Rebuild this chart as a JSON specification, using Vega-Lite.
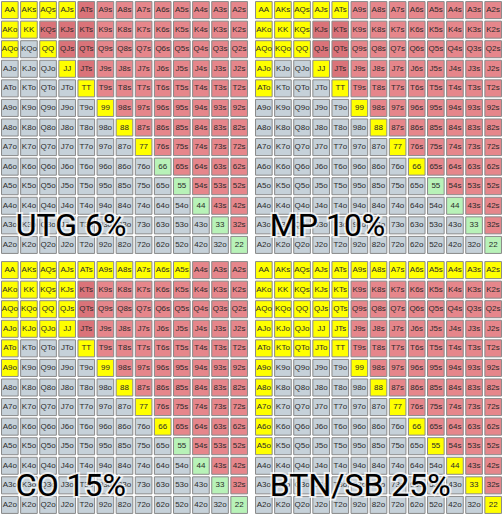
{
"$schema":"https://vega.github.io/schema/vega-lite/v6.json",
"padding":0,
"background":"white",
"datasets":{
"titles":[{"p":"utg","t":"UTG 6%"},{"p":"mp","t":"MP 10%"},{"p":"co","t":"CO 15%"},{"p":"btn","t":"BTN/SB 25%"}],
"cells":[
{"r":0,"c":0,"h":"AA","utg":"Y","mp":"Y","co":"Y","btn":"Y"},
{"r":0,"c":1,"h":"AKs","utg":"Y","mp":"Y","co":"Y","btn":"Y"},
{"r":0,"c":2,"h":"AQs","utg":"Y","mp":"Y","co":"Y","btn":"Y"},
{"r":0,"c":3,"h":"AJs","utg":"Y","mp":"Y","co":"Y","btn":"Y"},
{"r":0,"c":4,"h":"ATs","utg":"D","mp":"Y","co":"Y","btn":"Y"},
{"r":0,"c":5,"h":"A9s","utg":"S","mp":"S","co":"Y","btn":"Y"},
{"r":0,"c":6,"h":"A8s","utg":"S","mp":"S","co":"Y","btn":"Y"},
{"r":0,"c":7,"h":"A7s","utg":"S","mp":"S","co":"Y","btn":"Y"},
{"r":0,"c":8,"h":"A6s","utg":"S","mp":"S","co":"Y","btn":"Y"},
{"r":0,"c":9,"h":"A5s","utg":"S","mp":"S","co":"Y","btn":"Y"},
{"r":0,"c":10,"h":"A4s","utg":"S","mp":"S","co":"S","btn":"Y"},
{"r":0,"c":11,"h":"A3s","utg":"S","mp":"S","co":"S","btn":"Y"},
{"r":0,"c":12,"h":"A2s","utg":"S","mp":"S","co":"S","btn":"Y"},
{"r":1,"c":0,"h":"AKo","utg":"Y","mp":"Y","co":"Y","btn":"Y"},
{"r":1,"c":1,"h":"KK","utg":"Y","mp":"Y","co":"Y","btn":"Y"},
{"r":1,"c":2,"h":"KQs","utg":"D","mp":"Y","co":"Y","btn":"Y"},
{"r":1,"c":3,"h":"KJs","utg":"D","mp":"D","co":"Y","btn":"Y"},
{"r":1,"c":4,"h":"KTs","utg":"D","mp":"D","co":"D","btn":"Y"},
{"r":1,"c":5,"h":"K9s","utg":"S","mp":"S","co":"S","btn":"S"},
{"r":1,"c":6,"h":"K8s","utg":"S","mp":"S","co":"S","btn":"S"},
{"r":1,"c":7,"h":"K7s","utg":"S","mp":"S","co":"S","btn":"S"},
{"r":1,"c":8,"h":"K6s","utg":"S","mp":"S","co":"S","btn":"S"},
{"r":1,"c":9,"h":"K5s","utg":"S","mp":"S","co":"S","btn":"S"},
{"r":1,"c":10,"h":"K4s","utg":"S","mp":"S","co":"S","btn":"S"},
{"r":1,"c":11,"h":"K3s","utg":"S","mp":"S","co":"S","btn":"S"},
{"r":1,"c":12,"h":"K2s","utg":"S","mp":"S","co":"S","btn":"S"},
{"r":2,"c":0,"h":"AQo","utg":"Y","mp":"Y","co":"Y","btn":"Y"},
{"r":2,"c":1,"h":"KQo","utg":"O","mp":"Y","co":"Y","btn":"Y"},
{"r":2,"c":2,"h":"QQ","utg":"Y","mp":"Y","co":"Y","btn":"Y"},
{"r":2,"c":3,"h":"QJs","utg":"D","mp":"D","co":"Y","btn":"Y"},
{"r":2,"c":4,"h":"QTs","utg":"D","mp":"D","co":"D","btn":"Y"},
{"r":2,"c":5,"h":"Q9s","utg":"S","mp":"S","co":"S","btn":"S"},
{"r":2,"c":6,"h":"Q8s","utg":"S","mp":"S","co":"S","btn":"S"},
{"r":2,"c":7,"h":"Q7s","utg":"S","mp":"S","co":"S","btn":"S"},
{"r":2,"c":8,"h":"Q6s","utg":"S","mp":"S","co":"S","btn":"S"},
{"r":2,"c":9,"h":"Q5s","utg":"S","mp":"S","co":"S","btn":"S"},
{"r":2,"c":10,"h":"Q4s","utg":"S","mp":"S","co":"S","btn":"S"},
{"r":2,"c":11,"h":"Q3s","utg":"S","mp":"S","co":"S","btn":"S"},
{"r":2,"c":12,"h":"Q2s","utg":"S","mp":"S","co":"S","btn":"S"},
{"r":3,"c":0,"h":"AJo","utg":"O","mp":"Y","co":"Y","btn":"Y"},
{"r":3,"c":1,"h":"KJo","utg":"O","mp":"O","co":"Y","btn":"Y"},
{"r":3,"c":2,"h":"QJo","utg":"O","mp":"O","co":"Y","btn":"Y"},
{"r":3,"c":3,"h":"JJ","utg":"Y","mp":"Y","co":"Y","btn":"Y"},
{"r":3,"c":4,"h":"JTs","utg":"D","mp":"D","co":"D","btn":"Y"},
{"r":3,"c":5,"h":"J9s","utg":"S","mp":"S","co":"S","btn":"S"},
{"r":3,"c":6,"h":"J8s","utg":"S","mp":"S","co":"S","btn":"S"},
{"r":3,"c":7,"h":"J7s","utg":"S","mp":"S","co":"S","btn":"S"},
{"r":3,"c":8,"h":"J6s","utg":"S","mp":"S","co":"S","btn":"S"},
{"r":3,"c":9,"h":"J5s","utg":"S","mp":"S","co":"S","btn":"S"},
{"r":3,"c":10,"h":"J4s","utg":"S","mp":"S","co":"S","btn":"S"},
{"r":3,"c":11,"h":"J3s","utg":"S","mp":"S","co":"S","btn":"S"},
{"r":3,"c":12,"h":"J2s","utg":"S","mp":"S","co":"S","btn":"S"},
{"r":4,"c":0,"h":"ATo","utg":"O","mp":"Y","co":"Y","btn":"Y"},
{"r":4,"c":1,"h":"KTo","utg":"O","mp":"O","co":"O","btn":"Y"},
{"r":4,"c":2,"h":"QTo","utg":"O","mp":"O","co":"O","btn":"Y"},
{"r":4,"c":3,"h":"JTo","utg":"O","mp":"O","co":"O","btn":"Y"},
{"r":4,"c":4,"h":"TT","utg":"Y","mp":"Y","co":"Y","btn":"Y"},
{"r":4,"c":5,"h":"T9s","utg":"S","mp":"S","co":"S","btn":"S"},
{"r":4,"c":6,"h":"T8s","utg":"S","mp":"S","co":"S","btn":"S"},
{"r":4,"c":7,"h":"T7s","utg":"S","mp":"S","co":"S","btn":"S"},
{"r":4,"c":8,"h":"T6s","utg":"S","mp":"S","co":"S","btn":"S"},
{"r":4,"c":9,"h":"T5s","utg":"S","mp":"S","co":"S","btn":"S"},
{"r":4,"c":10,"h":"T4s","utg":"S","mp":"S","co":"S","btn":"S"},
{"r":4,"c":11,"h":"T3s","utg":"S","mp":"S","co":"S","btn":"S"},
{"r":4,"c":12,"h":"T2s","utg":"S","mp":"S","co":"S","btn":"S"},
{"r":5,"c":0,"h":"A9o","utg":"O","mp":"O","co":"Y","btn":"Y"},
{"r":5,"c":1,"h":"K9o","utg":"O","mp":"O","co":"O","btn":"O"},
{"r":5,"c":2,"h":"Q9o","utg":"O","mp":"O","co":"O","btn":"O"},
{"r":5,"c":3,"h":"J9o","utg":"O","mp":"O","co":"O","btn":"O"},
{"r":5,"c":4,"h":"T9o","utg":"O","mp":"O","co":"O","btn":"O"},
{"r":5,"c":5,"h":"99","utg":"Y","mp":"Y","co":"Y","btn":"Y"},
{"r":5,"c":6,"h":"98s","utg":"S","mp":"S","co":"S","btn":"S"},
{"r":5,"c":7,"h":"97s","utg":"S","mp":"S","co":"S","btn":"S"},
{"r":5,"c":8,"h":"96s","utg":"S","mp":"S","co":"S","btn":"S"},
{"r":5,"c":9,"h":"95s","utg":"S","mp":"S","co":"S","btn":"S"},
{"r":5,"c":10,"h":"94s","utg":"S","mp":"S","co":"S","btn":"S"},
{"r":5,"c":11,"h":"93s","utg":"S","mp":"S","co":"S","btn":"S"},
{"r":5,"c":12,"h":"92s","utg":"S","mp":"S","co":"S","btn":"S"},
{"r":6,"c":0,"h":"A8o","utg":"O","mp":"O","co":"O","btn":"Y"},
{"r":6,"c":1,"h":"K8o","utg":"O","mp":"O","co":"O","btn":"O"},
{"r":6,"c":2,"h":"Q8o","utg":"O","mp":"O","co":"O","btn":"O"},
{"r":6,"c":3,"h":"J8o","utg":"O","mp":"O","co":"O","btn":"O"},
{"r":6,"c":4,"h":"T8o","utg":"O","mp":"O","co":"O","btn":"O"},
{"r":6,"c":5,"h":"98o","utg":"O","mp":"O","co":"O","btn":"O"},
{"r":6,"c":6,"h":"88","utg":"Y","mp":"Y","co":"Y","btn":"Y"},
{"r":6,"c":7,"h":"87s","utg":"S","mp":"S","co":"S","btn":"S"},
{"r":6,"c":8,"h":"86s","utg":"S","mp":"S","co":"S","btn":"S"},
{"r":6,"c":9,"h":"85s","utg":"S","mp":"S","co":"S","btn":"S"},
{"r":6,"c":10,"h":"84s","utg":"S","mp":"S","co":"S","btn":"S"},
{"r":6,"c":11,"h":"83s","utg":"S","mp":"S","co":"S","btn":"S"},
{"r":6,"c":12,"h":"82s","utg":"S","mp":"S","co":"S","btn":"S"},
{"r":7,"c":0,"h":"A7o","utg":"O","mp":"O","co":"O","btn":"Y"},
{"r":7,"c":1,"h":"K7o","utg":"O","mp":"O","co":"O","btn":"O"},
{"r":7,"c":2,"h":"Q7o","utg":"O","mp":"O","co":"O","btn":"O"},
{"r":7,"c":3,"h":"J7o","utg":"O","mp":"O","co":"O","btn":"O"},
{"r":7,"c":4,"h":"T7o","utg":"O","mp":"O","co":"O","btn":"O"},
{"r":7,"c":5,"h":"97o","utg":"O","mp":"O","co":"O","btn":"O"},
{"r":7,"c":6,"h":"87o","utg":"O","mp":"O","co":"O","btn":"O"},
{"r":7,"c":7,"h":"77","utg":"Y","mp":"Y","co":"Y","btn":"Y"},
{"r":7,"c":8,"h":"76s","utg":"S","mp":"S","co":"S","btn":"S"},
{"r":7,"c":9,"h":"75s","utg":"S","mp":"S","co":"S","btn":"S"},
{"r":7,"c":10,"h":"74s","utg":"S","mp":"S","co":"S","btn":"S"},
{"r":7,"c":11,"h":"73s","utg":"S","mp":"S","co":"S","btn":"S"},
{"r":7,"c":12,"h":"72s","utg":"S","mp":"S","co":"S","btn":"S"},
{"r":8,"c":0,"h":"A6o","utg":"O","mp":"O","co":"O","btn":"Y"},
{"r":8,"c":1,"h":"K6o","utg":"O","mp":"O","co":"O","btn":"O"},
{"r":8,"c":2,"h":"Q6o","utg":"O","mp":"O","co":"O","btn":"O"},
{"r":8,"c":3,"h":"J6o","utg":"O","mp":"O","co":"O","btn":"O"},
{"r":8,"c":4,"h":"T6o","utg":"O","mp":"O","co":"O","btn":"O"},
{"r":8,"c":5,"h":"96o","utg":"O","mp":"O","co":"O","btn":"O"},
{"r":8,"c":6,"h":"86o","utg":"O","mp":"O","co":"O","btn":"O"},
{"r":8,"c":7,"h":"76o","utg":"O","mp":"O","co":"O","btn":"O"},
{"r":8,"c":8,"h":"66","utg":"P","mp":"Y","co":"Y","btn":"Y"},
{"r":8,"c":9,"h":"65s","utg":"S","mp":"S","co":"S","btn":"S"},
{"r":8,"c":10,"h":"64s","utg":"S","mp":"S","co":"S","btn":"S"},
{"r":8,"c":11,"h":"63s","utg":"S","mp":"S","co":"S","btn":"S"},
{"r":8,"c":12,"h":"62s","utg":"S","mp":"S","co":"S","btn":"S"},
{"r":9,"c":0,"h":"A5o","utg":"O","mp":"O","co":"O","btn":"Y"},
{"r":9,"c":1,"h":"K5o","utg":"O","mp":"O","co":"O","btn":"O"},
{"r":9,"c":2,"h":"Q5o","utg":"O","mp":"O","co":"O","btn":"O"},
{"r":9,"c":3,"h":"J5o","utg":"O","mp":"O","co":"O","btn":"O"},
{"r":9,"c":4,"h":"T5o","utg":"O","mp":"O","co":"O","btn":"O"},
{"r":9,"c":5,"h":"95o","utg":"O","mp":"O","co":"O","btn":"O"},
{"r":9,"c":6,"h":"85o","utg":"O","mp":"O","co":"O","btn":"O"},
{"r":9,"c":7,"h":"75o","utg":"O","mp":"O","co":"O","btn":"O"},
{"r":9,"c":8,"h":"65o","utg":"O","mp":"O","co":"O","btn":"O"},
{"r":9,"c":9,"h":"55","utg":"P","mp":"P","co":"P","btn":"Y"},
{"r":9,"c":10,"h":"54s","utg":"S","mp":"S","co":"S","btn":"S"},
{"r":9,"c":11,"h":"53s","utg":"S","mp":"S","co":"S","btn":"S"},
{"r":9,"c":12,"h":"52s","utg":"S","mp":"S","co":"S","btn":"S"},
{"r":10,"c":0,"h":"A4o","utg":"O","mp":"O","co":"O","btn":"O"},
{"r":10,"c":1,"h":"K4o","utg":"O","mp":"O","co":"O","btn":"O"},
{"r":10,"c":2,"h":"Q4o","utg":"O","mp":"O","co":"O","btn":"O"},
{"r":10,"c":3,"h":"J4o","utg":"O","mp":"O","co":"O","btn":"O"},
{"r":10,"c":4,"h":"T4o","utg":"O","mp":"O","co":"O","btn":"O"},
{"r":10,"c":5,"h":"94o","utg":"O","mp":"O","co":"O","btn":"O"},
{"r":10,"c":6,"h":"84o","utg":"O","mp":"O","co":"O","btn":"O"},
{"r":10,"c":7,"h":"74o","utg":"O","mp":"O","co":"O","btn":"O"},
{"r":10,"c":8,"h":"64o","utg":"O","mp":"O","co":"O","btn":"O"},
{"r":10,"c":9,"h":"54o","utg":"O","mp":"O","co":"O","btn":"O"},
{"r":10,"c":10,"h":"44","utg":"P","mp":"P","co":"P","btn":"Y"},
{"r":10,"c":11,"h":"43s","utg":"S","mp":"S","co":"S","btn":"S"},
{"r":10,"c":12,"h":"42s","utg":"S","mp":"S","co":"S","btn":"S"},
{"r":11,"c":0,"h":"A3o","utg":"O","mp":"O","co":"O","btn":"O"},
{"r":11,"c":1,"h":"K3o","utg":"O","mp":"O","co":"O","btn":"O"},
{"r":11,"c":2,"h":"Q3o","utg":"O","mp":"O","co":"O","btn":"O"},
{"r":11,"c":3,"h":"J3o","utg":"O","mp":"O","co":"O","btn":"O"},
{"r":11,"c":4,"h":"T3o","utg":"O","mp":"O","co":"O","btn":"O"},
{"r":11,"c":5,"h":"93o","utg":"O","mp":"O","co":"O","btn":"O"},
{"r":11,"c":6,"h":"83o","utg":"O","mp":"O","co":"O","btn":"O"},
{"r":11,"c":7,"h":"73o","utg":"O","mp":"O","co":"O","btn":"O"},
{"r":11,"c":8,"h":"63o","utg":"O","mp":"O","co":"O","btn":"O"},
{"r":11,"c":9,"h":"53o","utg":"O","mp":"O","co":"O","btn":"O"},
{"r":11,"c":10,"h":"43o","utg":"O","mp":"O","co":"O","btn":"O"},
{"r":11,"c":11,"h":"33","utg":"P","mp":"P","co":"P","btn":"Y"},
{"r":11,"c":12,"h":"32s","utg":"S","mp":"S","co":"S","btn":"S"},
{"r":12,"c":0,"h":"A2o","utg":"O","mp":"O","co":"O","btn":"O"},
{"r":12,"c":1,"h":"K2o","utg":"O","mp":"O","co":"O","btn":"O"},
{"r":12,"c":2,"h":"Q2o","utg":"O","mp":"O","co":"O","btn":"O"},
{"r":12,"c":3,"h":"J2o","utg":"O","mp":"O","co":"O","btn":"O"},
{"r":12,"c":4,"h":"T2o","utg":"O","mp":"O","co":"O","btn":"O"},
{"r":12,"c":5,"h":"92o","utg":"O","mp":"O","co":"O","btn":"O"},
{"r":12,"c":6,"h":"82o","utg":"O","mp":"O","co":"O","btn":"O"},
{"r":12,"c":7,"h":"72o","utg":"O","mp":"O","co":"O","btn":"O"},
{"r":12,"c":8,"h":"62o","utg":"O","mp":"O","co":"O","btn":"O"},
{"r":12,"c":9,"h":"52o","utg":"O","mp":"O","co":"O","btn":"O"},
{"r":12,"c":10,"h":"42o","utg":"O","mp":"O","co":"O","btn":"O"},
{"r":12,"c":11,"h":"32o","utg":"O","mp":"O","co":"O","btn":"O"},
{"r":12,"c":12,"h":"22","utg":"P","mp":"P","co":"P","btn":"Y"}
]},
"data":{"name":"cells"},
"transform":[
{"fold":["utg","mp","co","btn"],"as":["p","v"]},
{"lookup":"p","from":{"data":{"name":"titles"},"key":"p","fields":["t"]}}
],
"columns":2,
"spacing":{"row":5,"column":5},
"concat":[
{"width":249,"height":255,"transform":[{"filter":"datum.p == 'utg'"}],
"encoding":{
"x":{"field":"c","type":"ordinal","axis":null,"scale":{"paddingInner":0.13,"paddingOuter":0.08}},
"y":{"field":"r","type":"ordinal","axis":null,"scale":{"paddingInner":0.13,"paddingOuter":0.08}}},
"layer":[
{"mark":{"type":"rect","stroke":"#8a8a8a","strokeWidth":1},"encoding":{"color":{"field":"v","type":"nominal","legend":null,"scale":{"domain":["Y","S","D","O","P"],"range":["#ffff00","#e6868b","#da7379","#c6d1d9","#b8f2b8"]}}}},
{"mark":{"type":"text","font":"Liberation Sans","fontSize":8,"color":"#2a2a2a","baseline":"middle","align":"center"},"encoding":{"text":{"field":"h"}}},
{"transform":[{"filter":"datum.r == 11 && datum.c == 0"}],"mark":{"type":"text","font":"Roboto","fontSize":32,"align":"left","baseline":"middle","dx":6,"dy":1,"color":"black","stroke":"white","strokeWidth":4,"strokeOpacity":0.7},"encoding":{"text":{"field":"t"}}},
{"transform":[{"filter":"datum.r == 11 && datum.c == 0"}],"mark":{"type":"text","font":"Roboto","fontSize":32,"align":"left","baseline":"middle","dx":6,"dy":1,"color":"black"},"encoding":{"text":{"field":"t"}}}
]},
{"width":249,"height":255,"transform":[{"filter":"datum.p == 'mp'"}],
"encoding":{
"x":{"field":"c","type":"ordinal","axis":null,"scale":{"paddingInner":0.13,"paddingOuter":0.08}},
"y":{"field":"r","type":"ordinal","axis":null,"scale":{"paddingInner":0.13,"paddingOuter":0.08}}},
"layer":[
{"mark":{"type":"rect","stroke":"#8a8a8a","strokeWidth":1},"encoding":{"color":{"field":"v","type":"nominal","legend":null,"scale":{"domain":["Y","S","D","O","P"],"range":["#ffff00","#e6868b","#da7379","#c6d1d9","#b8f2b8"]}}}},
{"mark":{"type":"text","font":"Liberation Sans","fontSize":8,"color":"#2a2a2a","baseline":"middle","align":"center"},"encoding":{"text":{"field":"h"}}},
{"transform":[{"filter":"datum.r == 11 && datum.c == 0"}],"mark":{"type":"text","font":"Roboto","fontSize":32,"align":"left","baseline":"middle","dx":6,"dy":1,"color":"black","stroke":"white","strokeWidth":4,"strokeOpacity":0.7},"encoding":{"text":{"field":"t"}}},
{"transform":[{"filter":"datum.r == 11 && datum.c == 0"}],"mark":{"type":"text","font":"Roboto","fontSize":32,"align":"left","baseline":"middle","dx":6,"dy":1,"color":"black"},"encoding":{"text":{"field":"t"}}}
]},
{"width":249,"height":255,"transform":[{"filter":"datum.p == 'co'"}],
"encoding":{
"x":{"field":"c","type":"ordinal","axis":null,"scale":{"paddingInner":0.13,"paddingOuter":0.08}},
"y":{"field":"r","type":"ordinal","axis":null,"scale":{"paddingInner":0.13,"paddingOuter":0.08}}},
"layer":[
{"mark":{"type":"rect","stroke":"#8a8a8a","strokeWidth":1},"encoding":{"color":{"field":"v","type":"nominal","legend":null,"scale":{"domain":["Y","S","D","O","P"],"range":["#ffff00","#e6868b","#da7379","#c6d1d9","#b8f2b8"]}}}},
{"mark":{"type":"text","font":"Liberation Sans","fontSize":8,"color":"#2a2a2a","baseline":"middle","align":"center"},"encoding":{"text":{"field":"h"}}},
{"transform":[{"filter":"datum.r == 11 && datum.c == 0"}],"mark":{"type":"text","font":"Roboto","fontSize":32,"align":"left","baseline":"middle","dx":6,"dy":1,"color":"black","stroke":"white","strokeWidth":4,"strokeOpacity":0.7},"encoding":{"text":{"field":"t"}}},
{"transform":[{"filter":"datum.r == 11 && datum.c == 0"}],"mark":{"type":"text","font":"Roboto","fontSize":32,"align":"left","baseline":"middle","dx":6,"dy":1,"color":"black"},"encoding":{"text":{"field":"t"}}}
]},
{"width":249,"height":255,"transform":[{"filter":"datum.p == 'btn'"}],
"encoding":{
"x":{"field":"c","type":"ordinal","axis":null,"scale":{"paddingInner":0.13,"paddingOuter":0.08}},
"y":{"field":"r","type":"ordinal","axis":null,"scale":{"paddingInner":0.13,"paddingOuter":0.08}}},
"layer":[
{"mark":{"type":"rect","stroke":"#8a8a8a","strokeWidth":1},"encoding":{"color":{"field":"v","type":"nominal","legend":null,"scale":{"domain":["Y","S","D","O","P"],"range":["#ffff00","#e6868b","#da7379","#c6d1d9","#b8f2b8"]}}}},
{"mark":{"type":"text","font":"Liberation Sans","fontSize":8,"color":"#2a2a2a","baseline":"middle","align":"center"},"encoding":{"text":{"field":"h"}}},
{"transform":[{"filter":"datum.r == 11 && datum.c == 0"}],"mark":{"type":"text","font":"Roboto","fontSize":32,"align":"left","baseline":"middle","dx":6,"dy":1,"color":"black","stroke":"white","strokeWidth":4,"strokeOpacity":0.7},"encoding":{"text":{"field":"t"}}},
{"transform":[{"filter":"datum.r == 11 && datum.c == 0"}],"mark":{"type":"text","font":"Roboto","fontSize":32,"align":"left","baseline":"middle","dx":6,"dy":1,"color":"black"},"encoding":{"text":{"field":"t"}}}
]}
],
"config":{"view":{"stroke":null}}
}
